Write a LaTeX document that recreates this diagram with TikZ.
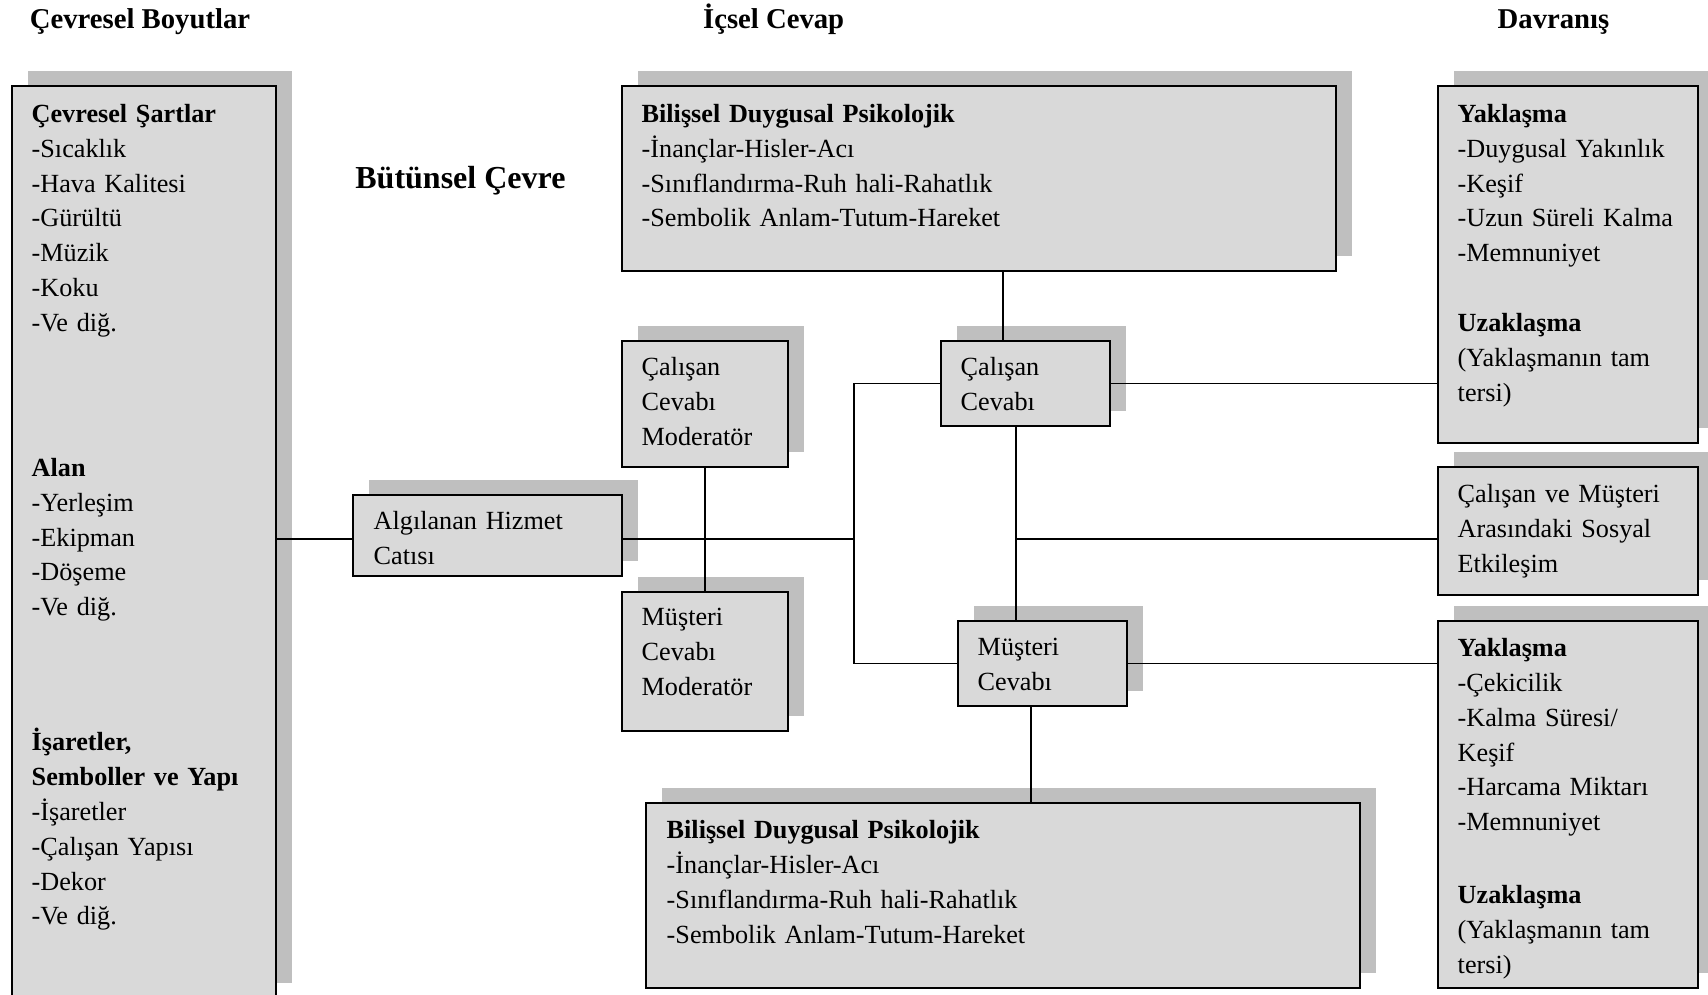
\documentclass[tikz,border=0pt]{standalone}
\usepackage{fontspec}
\setmainfont{Liberation Serif}
\usetikzlibrary{shadows,fit}
\definecolor{boxfill}{RGB}{217,217,217}
\definecolor{shadowc}{RGB}{191,191,191}
\newcommand{\bodyfont}{\fontsize{13.1pt}{17.45pt}\selectfont}
\newcommand{\headfont}{\fontsize{14.35pt}{17pt}\selectfont\bfseries}
\newcommand{\bigheadfont}{\fontsize{16pt}{19pt}\selectfont\bfseries}
\tikzset{
  box/.style={draw=black, line width=0.7pt, fill=boxfill, inner sep=0pt,
    drop shadow={opacity=1, fill=shadowc, shadow xshift=8pt, shadow yshift=7.5pt}},
  body/.style={anchor=base west, inner sep=0pt, text width=200pt, align=left, font=\bodyfont},
  head/.style={anchor=base west, inner sep=0pt, font=\headfont},
  conn/.style={draw=black, line width=0.55pt},
}
\begin{document}
\begin{tikzpicture}[x=0.5pt,y=-0.5pt]
\useasboundingbox (0,0) rectangle (1708,995);
\clip (0,0) rectangle (1708,995);
% headers
\node[head] (h1) at (29.5,29) {Çevresel Boyutlar};
\node[head] (h2) at (702.7,29) {İçsel Cevap};
\node[head] (h3) at (1497.3,29) {Davranış};
\node[head, font=\bigheadfont] (h4) at (355,188) {Bütünsel Çevre};
% boxes
\node[box, fit={(12,86) (276,998)}] (L) {};
\node[box, fit={(353,495) (622,576)}] (A) {};
\node[box, fit={(622,341) (788,467)}] (CM) {};
\node[box, fit={(622,592) (788,731)}] (MM) {};
\node[box, fit={(622,86) (1336,271)}] (TB) {};
\node[box, fit={(941,341) (1110,426)}] (CC) {};
\node[box, fit={(958,621) (1127,706)}] (MC) {};
\node[box, fit={(646,803) (1360,988)}] (BB) {};
\node[box, fit={(1438,86) (1698,443)}] (R1) {};
\node[box, fit={(1438,467) (1698,595)}] (R2) {};
\node[box, fit={(1438,621) (1698,988)}] (BR) {};
% texts
\node[body] (Lt) at ([shift={(20,37)}]L.north west) {\textbf{Çevresel Şartlar}\\-Sıcaklık\\-Hava Kalitesi\\-Gürültü\\-Müzik\\-Koku\\-Ve diğ.\\\mbox{}\\\mbox{}\\\mbox{}\\[2.5pt]\textbf{Alan}\\-Yerleşim\\-Ekipman\\-Döşeme\\-Ve diğ.\\\mbox{}\\\mbox{}\\[-2.5pt]\mbox{}\\\textbf{İşaretler,}\\\textbf{Semboller ve Yapı}\\-İşaretler\\-Çalışan Yapısı\\-Dekor\\-Ve diğ.};
\node[body] (At) at ([shift={(21,35)}]A.north west) {Algılanan Hizmet\\Catısı};
\node[body] (CMt) at ([shift={(20,35)}]CM.north west) {Çalışan\\Cevabı\\Moderatör};
\node[body] (MMt) at ([shift={(20,34.5)}]MM.north west) {Müşteri\\Cevabı\\Moderatör};
\node[body] (TBt) at ([shift={(20,37)}]TB.north west) {\textbf{Bilişsel Duygusal Psikolojik}\\-İnançlar-Hisler-Acı\\-Sınıflandırma-Ruh hali-Rahatlık\\-Sembolik Anlam-Tutum-Hareket};
\node[body] (CCt) at ([shift={(20,35)}]CC.north west) {Çalışan\\Cevabı};
\node[body] (MCt) at ([shift={(20,35)}]MC.north west) {Müşteri\\Cevabı};
\node[body] (BBt) at ([shift={(21,36)}]BB.north west) {\textbf{Bilişsel Duygusal Psikolojik}\\-İnançlar-Hisler-Acı\\-Sınıflandırma-Ruh hali-Rahatlık\\-Sembolik Anlam-Tutum-Hareket};
\node[body] (R1t) at ([shift={(20,37)}]R1.north west) {\textbf{Yaklaşma}\\-Duygusal Yakınlık\\-Keşif\\-Uzun Süreli Kalma\\-Memnuniyet\\\mbox{}\\\textbf{Uzaklaşma}\\(Yaklaşmanın tam\\tersi)};
\node[body] (R2t) at ([shift={(20,36)}]R2.north west) {Çalışan ve Müşteri\\Arasındaki Sosyal\\Etkileşim};
\node[body] (BRt) at ([shift={(20,36)}]BR.north west) {\textbf{Yaklaşma}\\-Çekicilik\\-Kalma Süresi/\\Keşif\\-Harcama Miktarı\\-Memnuniyet\\\mbox{}\\[1.5pt]\textbf{Uzaklaşma}\\(Yaklaşmanın tam\\tersi)};
% connector helpers
\coordinate (hub) at (854,539);
\coordinate (t1) at (1003,0);
\coordinate (t2) at (1016,0);
\coordinate (t3) at (1031,0);
% connectors
\draw[conn] (hub -| L.east) -- (hub -| A.west);
\draw[conn] (hub -| A.east) -- (hub);
\draw[conn] (CM.south) -- (MM.north);
\draw[conn] (CC.west) -- (CC.west -| hub) -- (MC.west -| hub) -- (MC.west);
\draw[conn] (t1 |- TB.south) -- (t1 |- CC.north);
\draw[conn] (t2 |- CC.south) -- (t2 |- MC.north);
\draw[conn] (t2 |- hub) -- (hub -| R2.west);
\draw[conn] (CC.east) -- (CC.east -| R1.west);
\draw[conn] (MC.east) -- (MC.east -| BR.west);
\draw[conn] (t3 |- MC.south) -- (t3 |- BB.north);
\end{tikzpicture}
\end{document}
